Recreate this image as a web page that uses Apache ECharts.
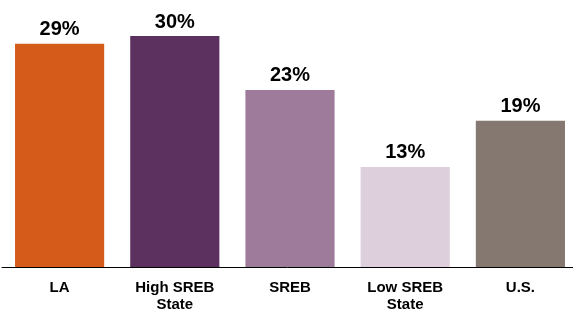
<!DOCTYPE html>
<html>

<head>
    <meta charset="utf-8">
    <script src="https://cdn.jsdelivr.net/npm/echarts@6/dist/echarts.min.js"></script>
</head>

<body style="margin:0;">
    <div id="chart" style="width: 573px;height:312px;"></div>
    <script>
        var categories = ['LA', 'High SREB\nState', 'SREB', 'Low SREB\nState', 'U.S.'];
        var values = [29, 30, 23, 13, 19];
        var colors = ['#D55B1A', '#5C3160', '#9E7B9A', '#DDD0DC', '#857870'];

        var myChart = echarts.init(document.getElementById('chart'));
        var option = {
            animation: false,
            grid: {
                left: 2,
                right: -5,
                top: 36,
                bottom: 45,
                outerBoundsMode: 'none'
            },
            xAxis: {
                type: 'category',
                data: categories,
                axisLine: { lineStyle: { color: '#000', width: 1 } },
                axisTick: { show: false },
                axisLabel: {
                    interval: 0,
                    margin: 12,
                    fontFamily: 'Liberation Sans',
                    fontWeight: 'bold',
                    fontSize: 15,
                    lineHeight: 17,
                    color: '#000'
                }
            },
            yAxis: {
                type: 'value',
                min: 0,
                max: 30,
                show: false
            },
            series: [{
                type: 'bar',
                barCategoryGap: '22.6%',
                data: values.map((v, i) => ({ value: v, itemStyle: { color: colors[i] } })),
                label: {
                    show: true,
                    position: 'top',
                    distance: 4,
                    formatter: '{c}%',
                    fontFamily: 'Liberation Sans',
                    fontWeight: 'bold',
                    fontSize: 20,
                    color: '#000'
                }
            }]
        };
        myChart.setOption(option);
    </script>
</body>

</html>
